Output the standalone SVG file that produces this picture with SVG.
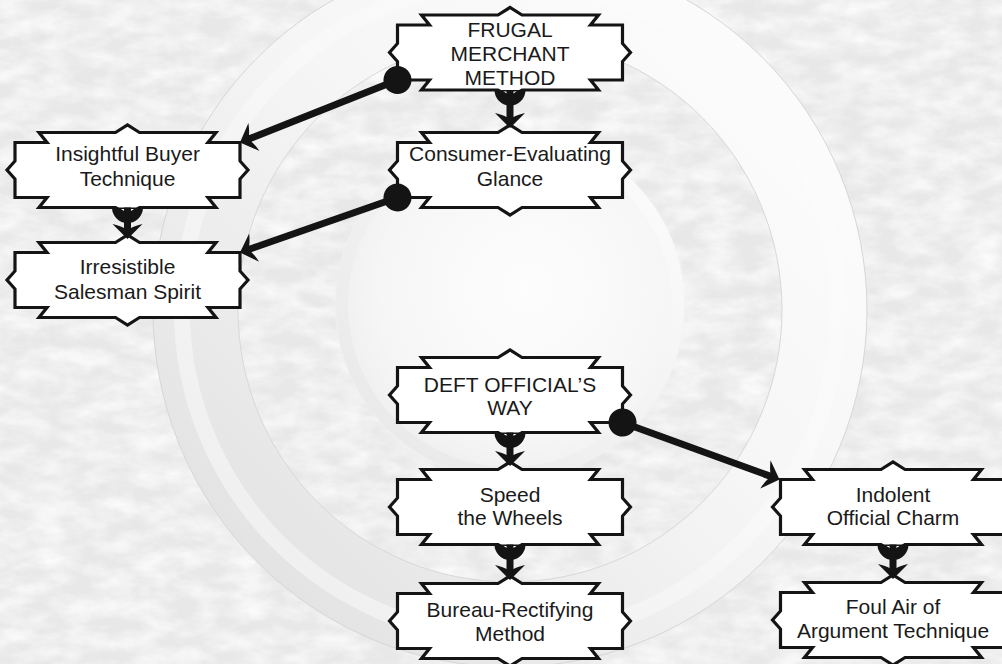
<svg xmlns="http://www.w3.org/2000/svg" width="1002" height="664" viewBox="0 0 1002 664">
  <defs>
    <style>
      .tag{fill:#fff;stroke:#141414;stroke-width:3.2;stroke-linejoin:miter;stroke-miterlimit:10}
      .lbl{font-family:"Liberation Sans",Arial,sans-serif;font-size:21px;fill:#1a1a1a;text-anchor:middle}
      .link{fill:none;stroke:#141414;stroke-width:7}
      .down{marker-start:url(#cup);marker-end:url(#barb)}
      .cross{marker-start:url(#socket);marker-end:url(#barb)}
    </style>

    <!-- plaster texture: soft white blotches over a pale grey ground -->
    <filter id="mottle" filterUnits="userSpaceOnUse" x="0" y="0" width="1002" height="664">
      <feTurbulence type="fractalNoise" baseFrequency="0.03 0.06" numOctaves="5" seed="11" result="n"/>
      <feColorMatrix in="n" type="matrix" values="0 0 0 0 1  0 0 0 0 1  0 0 0 0 1  1.4 0 0 0 -0.42"/>
    </filter>

    <linearGradient id="ringShade" x1="1" y1="0" x2="0" y2="1">
      <stop offset="0" stop-color="#fdfdfd"/>
      <stop offset="0.45" stop-color="#f6f6f6"/>
      <stop offset="0.75" stop-color="#eaeaea"/>
      <stop offset="1" stop-color="#dfdfdf"/>
    </linearGradient>
    <linearGradient id="ringBevel" x1="0" y1="1" x2="1" y2="0">
      <stop offset="0" stop-color="#ffffff" stop-opacity="0.5"/>
      <stop offset="1" stop-color="#ffffff" stop-opacity="0.1"/>
    </linearGradient>
    <radialGradient id="discShade" cx="0.55" cy="0.45" r="0.6">
      <stop offset="0" stop-color="#fdfdfd"/>
      <stop offset="0.7" stop-color="#f6f6f6"/>
      <stop offset="1" stop-color="#ededed"/>
    </radialGradient>
    <linearGradient id="discRim" x1="1" y1="0" x2="0" y2="1">
      <stop offset="0" stop-color="#ffffff"/>
      <stop offset="1" stop-color="#e4e4e4"/>
    </linearGradient>

    <!-- charm tag outline, centred on 0,0 -->
    <path id="tag" d="M-112.5,-27.5 H-80.5 L-88.5,-37.5 H-12 L0,-45 L12,-37.5 H88.5 L80.5,-27.5 H112.5 V-9 L120.5,0 L112.5,9 V27.5 H80.5 L88.5,37.5 H12 L0,45 L-12,37.5 H-88.5 L-80.5,27.5 H-112.5 V9 L-120.5,0 L-112.5,-9 Z"/>

    <!-- swept-back barbed head; the link ends 10px behind the tip -->
    <marker id="barb" markerUnits="userSpaceOnUse" orient="auto" refX="0" refY="0" markerWidth="40" markerHeight="40" style="overflow:visible">
      <path d="M10,0 L-5,-15 Q-3,-7 -1,-3.5 L-1,3.5 Q-3,7 -5,15 Z" fill="#141414"/>
    </marker>
    <marker id="socket" markerUnits="userSpaceOnUse" orient="auto" refX="0" refY="0" markerWidth="40" markerHeight="40" style="overflow:visible">
      <circle r="14" fill="#141414"/>
    </marker>
    <marker id="cup" markerUnits="userSpaceOnUse" orient="auto" refX="0" refY="0" markerWidth="40" markerHeight="40" style="overflow:visible">
      <path d="M0,-15.5 A15.5,15.5 0 0 1 0,15.5 Z M1.6,-7 L6,0 L1.6,7 Z" fill="#141414" fill-rule="evenodd"/>
    </marker>
  </defs>

  <!-- backdrop -->
  <rect width="1002" height="664" fill="#e8e8e8"/>
  <rect width="1002" height="664" filter="url(#mottle)"/>
  <circle cx="510" cy="310" r="314.5" fill="none" stroke="url(#ringShade)" stroke-width="85"/>
  <circle cx="510" cy="310" r="328" fill="none" stroke="url(#ringBevel)" stroke-width="16"/>
  <circle cx="510" cy="310" r="357" fill="none" stroke="#d6d6d6" stroke-width="1"/>
  <circle cx="510" cy="310" r="272" fill="none" stroke="#d8d8d8" stroke-width="1"/>
  <circle cx="510" cy="305" r="175" fill="url(#discShade)"/>
  <circle cx="510" cy="305" r="168" fill="none" stroke="url(#discRim)" stroke-width="12" opacity="0.7"/>

  <!-- charms -->
  <g id="frugal-merchant-method">
    <use href="#tag" class="tag" x="510" y="52.5"/>
    <text class="lbl" x="510" y="37">FRUGAL</text>
    <text class="lbl" x="510" y="61">MERCHANT</text>
    <text class="lbl" x="510" y="85">METHOD</text>
  </g>
  <g id="insightful-buyer-technique">
    <use href="#tag" class="tag" x="127.5" y="170"/>
    <text class="lbl" x="127.5" y="161">Insightful Buyer</text>
    <text class="lbl" x="127.5" y="185.5">Technique</text>
  </g>
  <g id="consumer-evaluating-glance">
    <use href="#tag" class="tag" x="510" y="170"/>
    <text class="lbl" x="510" y="161">Consumer-Evaluating</text>
    <text class="lbl" x="510" y="185.5">Glance</text>
  </g>
  <g id="irresistible-salesman-spirit">
    <use href="#tag" class="tag" x="127.5" y="280"/>
    <text class="lbl" x="127.5" y="274">Irresistible</text>
    <text class="lbl" x="127.5" y="298.5">Salesman Spirit</text>
  </g>
  <g id="deft-officials-way">
    <use href="#tag" class="tag" x="510" y="395"/>
    <text class="lbl" x="510" y="391.5">DEFT OFFICIAL’S</text>
    <text class="lbl" x="510" y="415">WAY</text>
  </g>
  <g id="speed-the-wheels">
    <use href="#tag" class="tag" x="510" y="507"/>
    <text class="lbl" x="510" y="501.5">Speed</text>
    <text class="lbl" x="510" y="525">the Wheels</text>
  </g>
  <g id="bureau-rectifying-method">
    <use href="#tag" class="tag" x="510" y="621"/>
    <text class="lbl" x="510" y="616.5">Bureau-Rectifying</text>
    <text class="lbl" x="510" y="641">Method</text>
  </g>
  <g id="indolent-official-charm">
    <use href="#tag" class="tag" x="893" y="507"/>
    <text class="lbl" x="893" y="501.5">Indolent</text>
    <text class="lbl" x="893" y="525">Official Charm</text>
  </g>
  <g id="foul-air-of-argument-technique">
    <use href="#tag" class="tag" x="893" y="620"/>
    <text class="lbl" x="893" y="614">Foul Air of</text>
    <text class="lbl" x="893" y="637.5">Argument Technique</text>
  </g>

  <!-- prerequisite links -->
  <g id="links">
    <path class="link down" d="M510,90 V118"/>
    <path class="link down" d="M127.5,207.5 V229"/>
    <path class="link down" d="M510,432.5 V456"/>
    <path class="link down" d="M510,544.5 V570"/>
    <path class="link down" d="M893,544.5 V569"/>
    <path class="link cross" d="M397.5,80 L249.3,138.8"/>
    <path class="link cross" d="M397.5,197.5 L249.4,249.2"/>
    <path class="link cross" d="M622.5,422.5 L770.1,476.1"/>
  </g>
</svg>
